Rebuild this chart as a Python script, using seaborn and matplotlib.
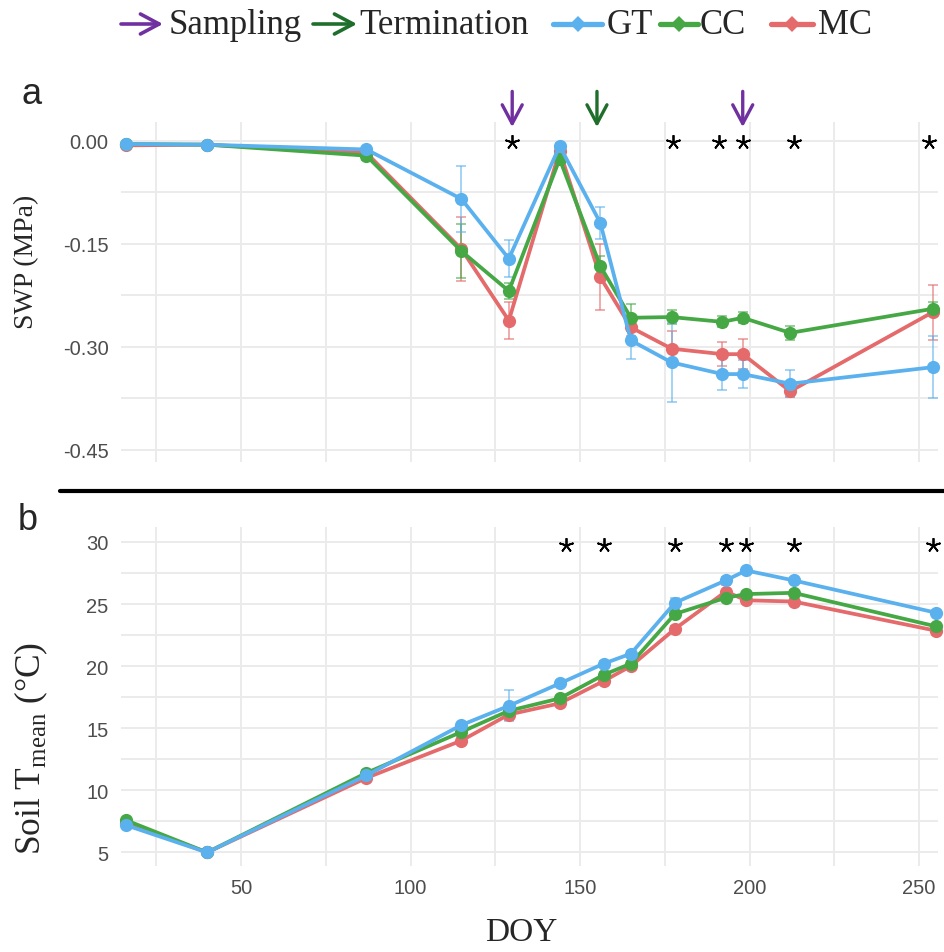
import numpy as np
import pandas as pd
import matplotlib
matplotlib.use("Agg")
import matplotlib.pyplot as plt
from matplotlib.lines import Line2D
from matplotlib.patches import FancyArrowPatch
import seaborn as sns

# ----------------------------------
# Data
# ----------------------------------

treatments = ["GT", "CC", "MC"]

# panel a : soil water potential (MPa)
doy_swp = [16, 40, 87, 115, 129, 144, 156, 165, 177, 192, 198, 212, 254]
swp_gt = [-0.005, -0.006, -0.013, -0.085, -0.172, -0.008, -0.120, -0.291,
          -0.323, -0.340, -0.340, -0.354, -0.330]
swp_cc = [-0.005, -0.006, -0.022, -0.161, -0.219, -0.027, -0.183, -0.258,
          -0.257, -0.264, -0.258, -0.280, -0.245]
swp_mc = [-0.007, -0.006, -0.018, -0.158, -0.262, -0.015, -0.199, -0.272,
          -0.303, -0.311, -0.311, -0.365, -0.250]
swp_se_gt = [0.003, 0.002, 0.004, 0.048, 0.027, 0.005, 0.023, 0.027,
             0.057, 0.023, 0.020, 0.020, 0.045]
swp_se_cc = [0.002, 0.002, 0.006, 0.039, 0.012, 0.006, 0.015, 0.020,
             0.010, 0.008, 0.008, 0.010, 0.010]
swp_se_mc = [0.003, 0.002, 0.005, 0.047, 0.027, 0.010, 0.048, 0.012,
             0.025, 0.017, 0.022, 0.008, 0.040]

# panel b : mean soil temperature (deg C)
doy_temp = [16, 40, 87, 115, 129, 144, 157, 165, 178, 193, 199, 213, 255]
temp_gt = [7.2, 5.0, 11.2, 15.25, 16.8, 18.6, 20.2, 21.0, 25.1, 26.9,
           27.7, 26.9, 24.3]
temp_cc = [7.6, 5.0, 11.4, 14.7, 16.4, 17.4, 19.3, 20.2, 24.2, 25.5,
           25.8, 25.9, 23.2]
temp_mc = [7.4, 5.0, 11.0, 14.0, 16.1, 17.0, 18.8, 20.0, 23.0, 26.0,
           25.3, 25.2, 22.85]
temp_se_gt = [0.2, 0.1, 0.2, 0.2, 1.25, 0.2, 0.2, 0.2, 0.4, 0.3, 0.2, 0.2, 0.2]
temp_se_cc = [0.2, 0.1, 0.2, 0.2, 0.5, 0.2, 0.2, 0.2, 0.2, 0.2, 0.2, 0.2, 0.2]
temp_se_mc = [0.2, 0.1, 0.2, 0.2, 0.4, 0.2, 0.2, 0.2, 0.2, 0.5, 0.2, 0.2, 0.2]

# significance stars and event arrows
star_doy_swp = [130, 177.5, 191, 198, 213, 253]
star_doy_temp = [146, 157, 178, 193, 199, 213, 254]
sampling_doy = [130, 198]
termination_doy = [155]

# axis ticks
doy_ticks = [50, 100, 150, 200, 250]
doy_minor = [25, 75, 125, 175, 225]
swp_ticks = [0.0, -0.15, -0.30, -0.45]
swp_ticklabels = ["0.00", "-0.15", "-0.30", "-0.45"]
swp_minor = [-0.075, -0.225, -0.375]
temp_ticks = [5, 10, 15, 20, 25, 30]
temp_minor = [7.5, 12.5, 17.5, 22.5, 27.5]

# ----------------------------------
# Styling
# ----------------------------------

colors = {"GT": "#5AB1EE", "CC": "#45A845", "MC": "#E46A6B"}
purple = "#7030A0"
dark_green = "#1F6E2C"
grid_col = "#EBEBEB"
tick_col = "#4D4D4D"

sns.set_theme(style="white")
plt.rcParams["font.family"] = ["Liberation Sans", "DejaVu Sans"]

W, H = 945, 953


def px(x, y):
    # figure pixel -> figure fraction (y measured from top)
    return x / W, 1 - y / H


fig = plt.figure(figsize=(W / 100, H / 100), dpi=100)

ax_a = fig.add_axes([121 / W, 1 - 463 / H, 817 / W, 340 / H])
ax_b = fig.add_axes([121 / W, 1 - 866.7 / H, 817 / W, 338.7 / H])

# ----------------------------------
# Long-form tables for seaborn
# ----------------------------------

swp_df = pd.concat([
    pd.DataFrame({"DOY": doy_swp, "SWP": swp_gt, "Treatment": "GT"}),
    pd.DataFrame({"DOY": doy_swp, "SWP": swp_cc, "Treatment": "CC"}),
    pd.DataFrame({"DOY": doy_swp, "SWP": swp_mc, "Treatment": "MC"}),
], ignore_index=True)

temp_df = pd.concat([
    pd.DataFrame({"DOY": doy_temp, "Temp": temp_gt, "Treatment": "GT"}),
    pd.DataFrame({"DOY": doy_temp, "Temp": temp_cc, "Treatment": "CC"}),
    pd.DataFrame({"DOY": doy_temp, "Temp": temp_mc, "Treatment": "MC"}),
], ignore_index=True)

swp_se = {"GT": swp_se_gt, "CC": swp_se_cc, "MC": swp_se_mc}
temp_se = {"GT": temp_se_gt, "CC": temp_se_cc, "MC": temp_se_mc}

draw_order = ["MC", "CC", "GT"]


def draw_panel(ax, df, ycol, se):
    for t in draw_order:
        sub = df[df["Treatment"] == t]
        ax.errorbar(sub["DOY"], sub[ycol], yerr=se[t], fmt="none",
                    ecolor=colors[t], alpha=0.6, elinewidth=1.3,
                    capsize=3.5, capthick=1.3, zorder=2, clip_on=False)
    sns.lineplot(data=df, x="DOY", y=ycol, hue="Treatment",
                 hue_order=draw_order, palette=colors, marker="o",
                 markersize=9.5, markeredgewidth=0, linewidth=2.7,
                 errorbar=None, legend=False, ax=ax, zorder=3)
    for line in ax.lines:
        line.set_clip_on(False)
    ax.set_xlim(14.6, 255.6)
    ax.set_xticks(doy_ticks)
    ax.set_xticks(doy_minor, minor=True)
    ax.grid(which="both", color=grid_col, linewidth=1.4)
    ax.set_axisbelow(True)
    for s in ax.spines.values():
        s.set_visible(False)
    ax.tick_params(which="both", length=0, labelsize=14.5,
                   labelcolor=tick_col, pad=9)
    ax.set_xlabel("")
    ax.set_ylabel("")


# ----------------------------------
# Panel a
# ----------------------------------

draw_panel(ax_a, swp_df, "SWP", swp_se)
ax_a.set_ylim(-0.468, 0.027)
ax_a.set_yticks(swp_ticks)
ax_a.set_yticklabels(swp_ticklabels)
ax_a.set_yticks(swp_minor, minor=True)
ax_a.tick_params(axis="x", labelbottom=False)

xa = ax_a.get_xaxis_transform()
ax_a.plot(star_doy_swp, [0.941] * len(star_doy_swp), transform=xa,
          ls="none", marker=(5, 2, 0), ms=10.5, mew=1.3, color="black",
          clip_on=False)

arrow_style = "->,head_width=0.4,head_length=0.75"
for d in sampling_doy:
    ax_a.annotate("", xy=(d, 0.985), xytext=(d, 1.09), xycoords=xa,
                  annotation_clip=False,
                  arrowprops=dict(arrowstyle=arrow_style, color=purple,
                                  lw=2.4, mutation_scale=18,
                                  shrinkA=0, shrinkB=0))
for d in termination_doy:
    ax_a.annotate("", xy=(d, 0.985), xytext=(d, 1.09), xycoords=xa,
                  annotation_clip=False,
                  arrowprops=dict(arrowstyle=arrow_style, color=dark_green,
                                  lw=2.4, mutation_scale=18,
                                  shrinkA=0, shrinkB=0))

# ----------------------------------
# Panel b
# ----------------------------------

draw_panel(ax_b, temp_df, "Temp", temp_se)
ax_b.set_ylim(3.93, 31.2)
ax_b.set_yticks(temp_ticks)
ax_b.set_yticks(temp_minor, minor=True)

xb = ax_b.get_xaxis_transform()
ax_b.plot(star_doy_temp, [0.947] * len(star_doy_temp), transform=xb,
          ls="none", marker=(5, 2, 0), ms=10.5, mew=1.3, color="black",
          clip_on=False)

# ----------------------------------
# Labels, divider, panel letters
# ----------------------------------

serif = ["Liberation Serif", "DejaVu Serif"]

fig.text(*px(27, 262), "SWP (MPa)", rotation=90, ha="center", va="center",
         fontsize=20, family=serif)
fig.text(*px(31, 748), r"Soil T$_{\mathregular{mean}}$ (°C)", rotation=90,
         ha="center", va="center", fontsize=25.5, family=serif)
fig.text(*px(521, 933), "DOY", ha="center", va="center", fontsize=24,
         family=serif)

fig.text(*px(32, 95), "a", ha="center", va="center", fontsize=26)
fig.text(*px(28, 520), "b", ha="center", va="center", fontsize=26)

fig.add_artist(Line2D([60 / W, 1.0], [1 - 492 / H, 1 - 492 / H],
                      transform=fig.transFigure, color="black", lw=3))

# ----------------------------------
# Legend (drawn by hand)
# ----------------------------------

legend_y = 25


def legend_arrow(x0, x1, color):
    a = FancyArrowPatch(px(x0, legend_y), px(x1, legend_y),
                        transform=fig.transFigure, arrowstyle=arrow_style,
                        mutation_scale=18, color=color, lw=2.6,
                        shrinkA=0, shrinkB=0)
    fig.add_artist(a)


legend_arrow(121, 163, purple)
fig.text(*px(169, legend_y), "Sampling", ha="left", va="center",
         fontsize=25, family=serif)
legend_arrow(313, 357, dark_green)
fig.text(*px(359, legend_y), "Termination", ha="left", va="center",
         fontsize=25, family=serif)

legend_items = [("GT", 553, 602, 607), ("CC", 660, 698, 700),
                ("MC", 771, 813, 818)]
for name, l0, l1, tx in legend_items:
    x0, y0 = px(l0, legend_y)
    x1, _ = px(l1, legend_y)
    fig.add_artist(Line2D([x0, x1], [y0, y0], transform=fig.transFigure,
                          color=colors[name], lw=3.8))
    fig.add_artist(Line2D([(x0 + x1) / 2], [y0], transform=fig.transFigure,
                          color=colors[name], marker="D", ms=8.5, mew=0))
    fig.text(*px(tx, legend_y), name, ha="left", va="center",
             fontsize=25, family=serif)

fig.savefig("out.png", dpi=100)
plt.close(fig)
